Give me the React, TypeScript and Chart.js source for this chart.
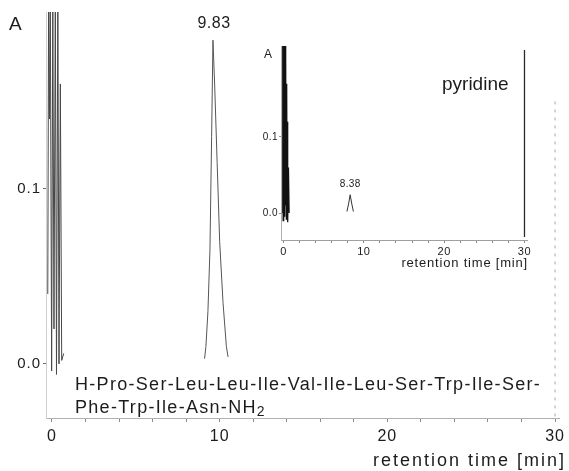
import React, { useEffect, useRef } from "react";
import { Chart, registerables } from "chart.js";

Chart.register(...registerables);

// ---------- Main chromatogram data ----------
const xTickValues = [0, 10, 20, 30];
const xTickLabels = ["0", "10", "20", "30"];
const xMinorTicks = [0, 2, 4, 6, 8, 10, 12, 14, 16, 18, 20, 22, 24, 26, 28, 30];
const yTickValues = [0, 0.1];
const yTickLabels = ["0.0", "0.1"];

// solvent front (retention time in min, absorbance)
const frontTime = [-0.25, -0.2, -0.15, -0.1, -0.02, 0.05, 0.12, 0.2, 0.27, 0.35, 0.42, 0.5, 0.58, 0.7];
const frontAbs = [0.04, 0.21, 0.14, 0.21, -0.004, 0.21, 0.02, 0.21, -0.006, 0.21, 0.0, 0.16, 0.002, 0.006];

// main peptide peak
const peakTime = [9.1, 9.18, 9.3, 9.42, 9.52, 9.6, 9.7, 9.85, 10.0, 10.2, 10.4, 10.5];
const peakAbs = [0.003, 0.01, 0.03, 0.065, 0.13, 0.185, 0.16, 0.115, 0.07, 0.035, 0.01, 0.004];

const peakLabel = "9.83";
const peptideLine1 = "H-Pro-Ser-Leu-Leu-Ile-Val-Ile-Leu-Ser-Trp-Ile-Ser-";
const peptideLine2 = "Phe-Trp-Ile-Asn-NH";
const peptideSub = "2";
const axisTitle = "retention time [min]";
const yUnit = "A";

// ---------- Inset (pyridine blank) data ----------
const insetXTickValues = [0, 10, 20, 30];
const insetXTickLabels = ["0", "10", "20", "30"];
const insetXMinorTicks = [0, 2, 4, 6, 8, 10, 12, 14, 16, 18, 20, 22, 24, 26, 28, 30];
const insetYTickValues = [0, 0.1];
const insetYTickLabels = ["0.0", "0.1"];

const insetFrontTime = [-0.15, -0.1, -0.05, 0.0, 0.05, 0.1, 0.15, 0.2, 0.25, 0.3, 0.35, 0.4, 0.45, 0.5, 0.55, 0.62, 0.7, 0.8];
const insetFrontAbs = [0.0, 0.23, -0.01, 0.23, 0.02, 0.23, -0.005, 0.22, 0.01, 0.2, -0.008, 0.17, 0.0, 0.12, -0.012, 0.06, 0.0, 0.0];

const insetPeakTime = [7.9, 8.1, 8.3, 8.5, 8.7];
const insetPeakAbs = [0.002, 0.012, 0.024, 0.012, 0.002];
const insetPeakLabel = "8.38";
const insetCompound = "pyridine";

const FONT = "'Liberation Sans', Arial, Helvetica, sans-serif";
const INK = "#1c1c1c";

const zip = (xs: number[], ys: number[]) => xs.map((x, i) => ({ x, y: ys[i] }));

function drawText(
  ctx: CanvasRenderingContext2D,
  text: string,
  x: number,
  y: number,
  size: number,
  align: CanvasTextAlign,
  baseline: CanvasTextBaseline,
  spacing = 0
) {
  ctx.save();
  ctx.font = `${size}px ${FONT}`;
  (ctx as any).letterSpacing = `${spacing}px`;
  ctx.fillStyle = INK;
  ctx.textAlign = align;
  ctx.textBaseline = baseline;
  ctx.fillText(text, x, y);
  ctx.restore();
}

const mainAnnotations = {
  id: "mainAnnotations",
  beforeDraw(chart: any) {
    chart.ctx.letterSpacing = "1px";
  },
  afterDraw(chart: any) {
    const { ctx, scales } = chart;
    const xs = scales.x;
    const ys = scales.y;
    const area = chart.chartArea;
    // right frame (dashed)
    ctx.save();
    ctx.strokeStyle = "#a8a8a8";
    ctx.lineWidth = 1;
    ctx.setLineDash([3, 5]);
    ctx.beginPath();
    ctx.moveTo(xs.getPixelForValue(30), ys.getPixelForValue(0.15));
    ctx.lineTo(xs.getPixelForValue(30), area.bottom);
    ctx.stroke();
    ctx.restore();

    drawText(ctx, yUnit, 9, 30, 19, "left", "alphabetic");

    let iMax = 0;
    peakAbs.forEach((v, i) => { if (v > peakAbs[iMax]) iMax = i; });
    drawText(ctx, peakLabel, xs.getPixelForValue(peakTime[iMax]) + 1, ys.getPixelForValue(peakAbs[iMax]) - 9, 16, "center", "bottom", 0.5);

    const left = 75;
    drawText(ctx, peptideLine1, left, 390, 18, "left", "alphabetic", 1.3);
    ctx.save();
    ctx.font = `18px ${FONT}`;
    (ctx as any).letterSpacing = "1.3px";
    const w = ctx.measureText(peptideLine2).width;
    ctx.restore();
    drawText(ctx, peptideLine2, left, 413, 18, "left", "alphabetic", 1.3);
    drawText(ctx, peptideSub, left + w, 416, 14, "left", "alphabetic", 0);

    drawText(ctx, axisTitle, 566, 461, 18, "right", "middle", 2);
  },
};

const insetAnnotations = {
  id: "insetAnnotations",
  beforeDraw(chart: any) {
    chart.ctx.letterSpacing = "0.5px";
  },
  afterDraw(chart: any) {
    const { ctx, scales } = chart;
    const xs = scales.x;
    const ys = scales.y;
    const area = chart.chartArea;
    // right frame at 30 min
    ctx.save();
    ctx.strokeStyle = "#2a2a2a";
    ctx.lineWidth = 1.3;
    ctx.beginPath();
    ctx.moveTo(xs.getPixelForValue(30), area.top + 4);
    ctx.lineTo(xs.getPixelForValue(30), area.bottom - 3);
    ctx.stroke();
    ctx.restore();

    drawText(ctx, yUnit, 14, 28, 12, "left", "alphabetic");

    let iMax = 0;
    insetPeakAbs.forEach((v, i) => { if (v > insetPeakAbs[iMax]) iMax = i; });
    drawText(ctx, insetPeakLabel, xs.getPixelForValue(insetPeakTime[iMax]), ys.getPixelForValue(insetPeakAbs[iMax]) - 6, 10, "center", "bottom", 0.3);

    drawText(ctx, insetCompound, 192, 60, 19, "left", "alphabetic", 0);
    drawText(ctx, axisTitle, 278, 233, 13, "right", "middle", 0.8);
  },
};

export default function App() {
  const mainRef = useRef<HTMLCanvasElement | null>(null);
  const insetRef = useRef<HTMLCanvasElement | null>(null);

  useEffect(() => {
    const mainCanvas = mainRef.current;
    const insetCanvas = insetRef.current;
    if (!mainCanvas || !insetCanvas) return;

    const main = new Chart(mainCanvas, {
      type: "scatter",
      data: {
        datasets: [
          { data: zip(frontTime, frontAbs), showLine: true, borderColor: "#484848", borderWidth: 1, pointRadius: 0, tension: 0 },
          { data: zip(peakTime, peakAbs), showLine: true, borderColor: "#555555", borderWidth: 1, pointRadius: 0, tension: 0 },
        ],
      },
      options: {
        animation: false,
        responsive: false,
        maintainAspectRatio: false,
        events: [],
        layout: { padding: { top: 12, right: 4.8, left: 0, bottom: 0 } },
        plugins: { legend: { display: false }, tooltip: { enabled: false } },
        scales: {
          x: {
            type: "linear",
            min: -0.35,
            max: 30.25,
            afterFit: (s: any) => { s.height = 53; },
            afterBuildTicks: (s: any) => { s.ticks = xMinorTicks.map((v) => ({ value: v })); },
            ticks: {
              autoSkip: false,
              maxRotation: 0,
              padding: 5,
              color: INK,
              font: { size: 16, family: FONT },
              callback: (v: any) => { const i = xTickValues.indexOf(Number(v)); return i >= 0 ? xTickLabels[i] : ""; },
            },
            grid: { drawOnChartArea: false, tickLength: 4, color: "#8a8a8a" },
            border: { display: true, dash: [1, 5], color: "#b0b0b0" },
          },
          y: {
            type: "linear",
            min: -0.0309,
            max: 0.2011,
            afterFit: (s: any) => { s.width = 46.1; },
            afterBuildTicks: (s: any) => { s.ticks = yTickValues.map((v) => ({ value: v })); },
            ticks: {
              padding: 2,
              color: INK,
              font: { size: 15, family: FONT },
              callback: (v: any) => { const i = yTickValues.indexOf(Number(v)); return i >= 0 ? yTickLabels[i] : ""; },
            },
            grid: { drawOnChartArea: false, tickLength: 3, color: "#6a6a6a" },
            border: { display: true, dash: [2, 7], color: "#d0d0d0" },
          },
        },
      },
      plugins: [mainAnnotations],
    } as any);

    const inset = new Chart(insetCanvas, {
      type: "scatter",
      data: {
        datasets: [
          { data: zip(insetFrontTime, insetFrontAbs), showLine: true, borderColor: "#111111", borderWidth: 1.2, pointRadius: 0, tension: 0 },
          { data: zip(insetPeakTime, insetPeakAbs), showLine: true, borderColor: "#333333", borderWidth: 1, pointRadius: 0, tension: 0 },
        ],
      },
      options: {
        animation: false,
        responsive: false,
        maintainAspectRatio: false,
        events: [],
        layout: { padding: { top: 16, right: 41.3, left: 0, bottom: 0 } },
        plugins: { legend: { display: false }, tooltip: { enabled: false } },
        scales: {
          x: {
            type: "linear",
            min: -0.3,
            max: 30.4,
            afterFit: (s: any) => { s.height = 35; },
            afterBuildTicks: (s: any) => { s.ticks = insetXMinorTicks.map((v) => ({ value: v })); },
            ticks: {
              autoSkip: false,
              maxRotation: 0,
              padding: 2,
              color: INK,
              font: { size: 11, family: FONT },
              callback: (v: any) => { const i = insetXTickValues.indexOf(Number(v)); return i >= 0 ? insetXTickLabels[i] : ""; },
            },
            grid: { drawOnChartArea: false, tickLength: 3, color: "#8a8a8a" },
            border: { display: true, dash: [1, 5], color: "#a0a0a0" },
          },
          y: {
            type: "linear",
            min: -0.0355,
            max: 0.2197,
            afterFit: (s: any) => { s.width = 31.1; },
            afterBuildTicks: (s: any) => { s.ticks = insetYTickValues.map((v) => ({ value: v })); },
            ticks: {
              padding: 1,
              color: INK,
              font: { size: 10, family: FONT },
              callback: (v: any) => { const i = insetYTickValues.indexOf(Number(v)); return i >= 0 ? insetYTickLabels[i] : ""; },
            },
            grid: { drawOnChartArea: false, tickLength: 2, color: "#8a8a8a" },
            border: { display: true, dash: [2, 5], color: "#b0b0b0" },
          },
        },
      },
      plugins: [insetAnnotations],
    } as any);

    return () => {
      main.destroy();
      inset.destroy();
    };
  }, []);

  return (
    <div style={{ position: "absolute", left: 0, top: 0, width: 569, height: 471, background: "#ffffff" }}>
      <canvas ref={mainRef} width={569} height={471} style={{ position: "absolute", left: 0, top: 0, width: 569, height: 471 }} />
      <canvas ref={insetRef} width={319} height={245} style={{ position: "absolute", left: 250, top: 30, width: 319, height: 245 }} />
    </div>
  );
}
